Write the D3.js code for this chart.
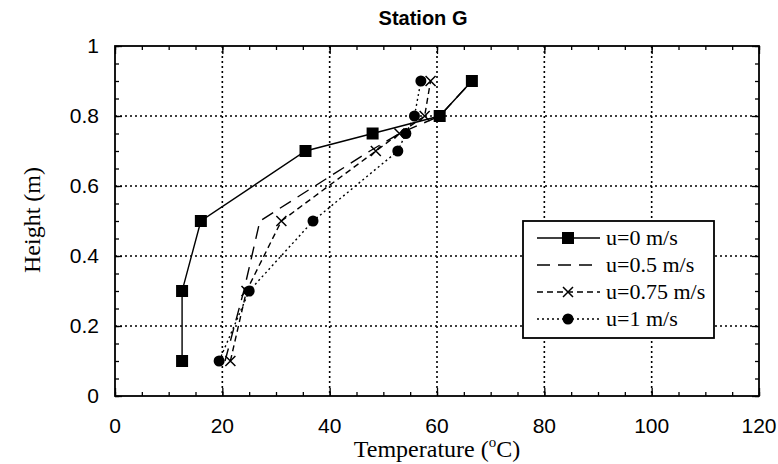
<!DOCTYPE html>
<html><head><meta charset="utf-8">
<script src="https://cdn.jsdelivr.net/npm/d3@7"></script>
<style>body{margin:0;background:#fff}</style>
</head><body><svg id="c" width="778" height="464"></svg>
<script>
const title = "Station G";
const xLabel = "Temperature (";
const yLabel = "Height (m)";
const xTicks = [0, 20, 40, 60, 80, 100, 120];
const yTicks = [0, 0.2, 0.4, 0.6, 0.8, 1];
const heights = [0.1, 0.3, 0.5, 0.7, 0.75, 0.8, 0.9];
const seriesNames = ["u=0 m/s", "u=0.5 m/s", "u=0.75 m/s", "u=1 m/s"];
const tempU0 = [12.5, 12.5, 16, 35.5, 48, 60.5, 66.5];
const tempU05 = [20.5, 24, 27, 47.5, 53, 60.5, 66.5];
const tempU075 = [21.5, 24.5, 31, 48.6, 53, 57.7, 58.8];
const tempU1 = [19.4, 25, 36.9, 52.7, 54.2, 55.8, 57];

const svg = d3.select("#c");
const L = 115, R = 759, T = 46, B = 396;
const x = d3.scaleLinear().domain([0, 120]).range([L, R]);
const y = d3.scaleLinear().domain([0, 1]).range([B, T]);
const SANS = "Liberation Sans, Arial, sans-serif";
const SERIF = "Liberation Serif, Times New Roman, serif";

// gridlines
const g = svg.append("g");
g.selectAll(".gx").data(xTicks.filter(d => d > 0 && d < 120)).join("line")
  .attr("x1", d => x(d)).attr("x2", d => x(d)).attr("y1", T).attr("y2", B)
  .attr("stroke", "#000").attr("stroke-width", 1.6).attr("stroke-dasharray", "2,3");
g.selectAll(".gy").data(yTicks.filter(d => d > 0 && d < 1)).join("line")
  .attr("x1", L).attr("x2", R).attr("y1", d => y(d)).attr("y2", d => y(d))
  .attr("stroke", "#000").attr("stroke-width", 1.6).attr("stroke-dasharray", "2,3");

// axes with inward ticks
const xMinor = d3.range(0, 121, 5);
const yMinor = d3.range(0, 1.0001, 0.05);
svg.append("g").attr("transform", `translate(0,${B})`).call(d3.axisBottom(x).tickValues(xMinor).tickSize(-4).tickFormat(""));
svg.append("g").attr("transform", `translate(0,${T})`).call(d3.axisTop(x).tickValues(xMinor).tickSize(-4).tickFormat(""));
svg.append("g").attr("transform", `translate(${L},0)`).call(d3.axisLeft(y).tickValues(yMinor).tickSize(-4).tickFormat(""));
svg.append("g").attr("transform", `translate(${R},0)`).call(d3.axisRight(y).tickValues(yMinor).tickSize(-4).tickFormat(""));
svg.append("g").attr("transform", `translate(0,${B})`).call(d3.axisBottom(x).tickValues(xTicks).tickSize(-8).tickFormat(""));
svg.append("g").attr("transform", `translate(0,${T})`).call(d3.axisTop(x).tickValues(xTicks).tickSize(-8).tickFormat(""));
svg.append("g").attr("transform", `translate(${L},0)`).call(d3.axisLeft(y).tickValues(yTicks).tickSize(-7).tickFormat(""));
svg.append("g").attr("transform", `translate(${R},0)`).call(d3.axisRight(y).tickValues(yTicks).tickSize(-7).tickFormat(""));
svg.selectAll(".domain").remove();
svg.selectAll(".tick line").attr("stroke", "#000").attr("stroke-width", 1.3);
svg.append("rect").attr("x", L).attr("y", T).attr("width", R - L).attr("height", B - T)
  .attr("fill", "none").attr("stroke", "#000").attr("stroke-width", 1.8);

// tick labels
svg.selectAll(".xl").data(xTicks).join("text")
  .attr("x", d => x(d)).attr("y", 433).attr("text-anchor", "middle")
  .attr("font-family", SANS).attr("font-size", 21).text(d => d);
svg.selectAll(".yl").data(yTicks).join("text")
  .attr("x", 99).attr("y", d => y(d) + 7).attr("text-anchor", "end")
  .attr("font-family", SANS).attr("font-size", 21).text(d => d);

// title & axis labels
svg.append("text").attr("x", 423).attr("y", 25).attr("text-anchor", "middle")
  .attr("font-family", SANS).attr("font-weight", "bold")
  .attr("font-size", 20).text(title);
const xt = svg.append("text").attr("x", 437).attr("y", 457).attr("text-anchor", "middle")
  .attr("font-family", SERIF).attr("font-size", 24);
xt.append("tspan").text(xLabel);
xt.append("tspan").attr("dy", -10).attr("font-size", 15).text("o");
xt.append("tspan").attr("dy", 10).text("C)");
svg.append("text").attr("transform", "translate(40,220) rotate(-90)").attr("text-anchor", "middle")
  .attr("font-family", SERIF).attr("font-size", 24).text(yLabel);

// series
const series = [
  {name: seriesNames[0], t: tempU0, dash: null, marker: "square"},
  {name: seriesNames[1], t: tempU05, dash: "13,8", marker: null},
  {name: seriesNames[2], t: tempU075, dash: "6,4", marker: "cross"},
  {name: seriesNames[3], t: tempU1, dash: "2,3", marker: "circle"}
];
const line = d3.line().x(d => x(d[0])).y(d => y(d[1]));
function drawMarker(sel, type, cx, cy) {
  if (type === "square") sel.append("rect").attr("x", cx - 6).attr("y", cy - 6).attr("width", 12).attr("height", 12).attr("fill", "#000");
  else if (type === "circle") sel.append("circle").attr("cx", cx).attr("cy", cy).attr("r", 5.5).attr("fill", "#000");
  else if (type === "cross") sel.append("path").attr("d", `M${cx-5},${cy-5}L${cx+5},${cy+5}M${cx-5},${cy+5}L${cx+5},${cy-5}`).attr("stroke", "#000").attr("stroke-width", 1.5);
}
series.forEach(s => {
  const pts = s.t.map((t, i) => [t, heights[i]]);
  svg.append("path").attr("d", line(pts)).attr("fill", "none").attr("stroke", "#000")
    .attr("stroke-width", 1.4).attr("stroke-dasharray", s.dash);
  if (s.marker) { const mg = svg.append("g"); pts.forEach(p => drawMarker(mg, s.marker, x(p[0]), y(p[1]))); }
});

// legend
const lx = 523, ly = 221, lw = 191, lh = 117;
svg.append("rect").attr("x", lx).attr("y", ly).attr("width", lw).attr("height", lh)
  .attr("fill", "#fff").attr("stroke", "#000").attr("stroke-width", 1.8);
series.forEach((s, i) => {
  const yy = 238 + i * 27;
  svg.append("line").attr("x1", 537).attr("x2", 600).attr("y1", yy).attr("y2", yy)
    .attr("stroke", "#000").attr("stroke-width", 1.4).attr("stroke-dasharray", s.dash);
  if (s.marker) drawMarker(svg.append("g"), s.marker, 568, yy);
  svg.append("text").attr("x", 606).attr("y", yy + 7).attr("font-family", SERIF)
    .attr("font-size", 22).text(s.name);
});
</script></body></html>
